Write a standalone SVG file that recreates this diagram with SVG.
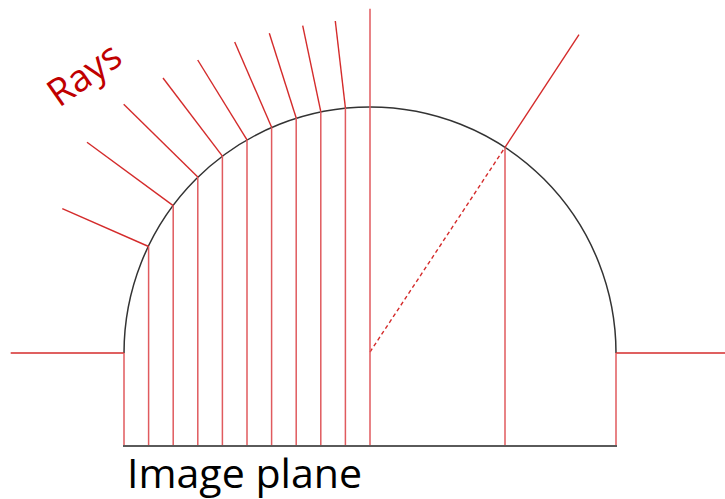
<svg xmlns="http://www.w3.org/2000/svg" width="725" height="499" viewBox="0 0 725 499">
<style>
.ray{stroke:#D42B2B;stroke-width:1.4;fill:none}
.vert{stroke:#E05A5E;stroke-width:1.5;fill:none}
.dash{stroke:#D42B2B;stroke-width:1.4;stroke-dasharray:4 3;fill:none}
.dome{stroke:#333333;stroke-width:1.5;fill:none}
.plane{stroke:#5A5A5A;stroke-width:2.2;fill:none}
</style>
<rect width="725" height="499" fill="#ffffff"/>
<g id="dome">
<path class="dome" d="M124,353 A246,246 0 0 1 616,353"/>
</g>
<g id="connectors">
<line class="ray" x1="10.7" y1="353" x2="124" y2="353"/>
<line class="ray" x1="616" y1="353" x2="725" y2="353"/>
<line class="vert" x1="124" y1="353" x2="124" y2="446"/>
<line class="vert" x1="616" y1="353" x2="616" y2="446"/>
<line class="ray" x1="148.6" y1="246.5" x2="62.3" y2="208.7"/>
<line class="ray" x1="173.2" y1="205.6" x2="87" y2="142.3"/>
<line class="ray" x1="197.8" y1="177" x2="123.7" y2="104.3"/>
<line class="ray" x1="222.4" y1="156.1" x2="163" y2="78"/>
<line class="ray" x1="247" y1="139.9" x2="197.7" y2="60"/>
<line class="ray" x1="271.6" y1="127.2" x2="234.7" y2="42"/>
<line class="ray" x1="296.2" y1="118" x2="269.3" y2="33.3"/>
<line class="ray" x1="320.8" y1="111.6" x2="302.7" y2="25.7"/>
<line class="ray" x1="345.4" y1="107.8" x2="335.3" y2="21"/>
<line class="ray" x1="505" y1="147.4" x2="579" y2="34.7"/>
<line class="dash" x1="370" y1="352" x2="505" y2="147.4"/>
<line class="vert" x1="148.6" y1="246.5" x2="148.6" y2="446"/>
<line class="vert" x1="173.2" y1="205.6" x2="173.2" y2="446"/>
<line class="vert" x1="197.8" y1="177" x2="197.8" y2="446"/>
<line class="vert" x1="222.4" y1="156.1" x2="222.4" y2="446"/>
<line class="vert" x1="247" y1="139.9" x2="247" y2="446"/>
<line class="vert" x1="271.6" y1="127.2" x2="271.6" y2="446"/>
<line class="vert" x1="296.2" y1="118" x2="296.2" y2="446"/>
<line class="vert" x1="320.8" y1="111.6" x2="320.8" y2="446"/>
<line class="vert" x1="345.4" y1="107.8" x2="345.4" y2="446"/>
<line class="vert" x1="370" y1="8.7" x2="370" y2="446"/>
<line class="vert" x1="505" y1="147.4" x2="505" y2="446"/>
</g>
<g id="image-plane">
<line class="plane" x1="123" y1="446" x2="617" y2="446"/>
<text x="127" y="488" font-family="'Open Sans','Liberation Sans',sans-serif" font-size="40" fill="#000000" textLength="235" lengthAdjust="spacingAndGlyphs">Image plane</text>
</g>
<g id="rays-label">
<text x="0" y="0" transform="translate(59,108) rotate(-35)" font-family="'Open Sans','Liberation Sans',sans-serif" font-size="38" fill="#C00000" textLength="80" lengthAdjust="spacingAndGlyphs">Rays</text>
</g>
</svg>
